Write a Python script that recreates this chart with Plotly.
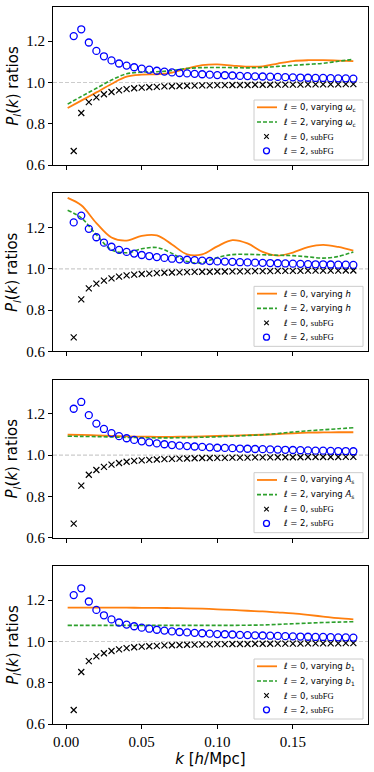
import plotly.graph_objects as go

# k grid of the subFG points and of the model curves
k_sub = [0.005, 0.010, 0.015, 0.020, 0.025, 0.030, 0.035, 0.040, 0.045, 0.050,
         0.055, 0.060, 0.065, 0.070, 0.075, 0.080, 0.085, 0.090, 0.095, 0.100,
         0.105, 0.110, 0.115, 0.120, 0.125, 0.130, 0.135, 0.140, 0.145, 0.150,
         0.155, 0.160, 0.165, 0.170, 0.175, 0.180, 0.185, 0.190]
k_line = [0.001, 0.01, 0.02, 0.03, 0.04, 0.05, 0.06, 0.07, 0.08, 0.09, 0.10,
          0.11, 0.12, 0.13, 0.14, 0.15, 0.16, 0.17, 0.18, 0.19]

# subFG ratios (same in every panel)
sub_l0 = [0.668, 0.852, 0.905, 0.928, 0.943, 0.954, 0.962, 0.968, 0.972, 0.975,
          0.977, 0.979, 0.981, 0.982, 0.983, 0.984, 0.985, 0.986, 0.986, 0.987,
          0.987, 0.988, 0.988, 0.988, 0.989, 0.989, 0.989, 0.990, 0.990, 0.990,
          0.990, 0.991, 0.991, 0.991, 0.991, 0.991, 0.992, 0.992]
sub_l2 = [1.225, 1.258, 1.194, 1.153, 1.127, 1.107, 1.092, 1.082, 1.074, 1.067,
          1.062, 1.057, 1.053, 1.049, 1.046, 1.044, 1.042, 1.040, 1.038, 1.036,
          1.035, 1.034, 1.032, 1.031, 1.030, 1.029, 1.028, 1.027, 1.026, 1.025,
          1.024, 1.023, 1.022, 1.022, 1.021, 1.020, 1.020, 1.019]

# varying omega_c
omc_l0 = [0.876, 0.912, 0.952, 0.993, 1.028, 1.038, 1.040, 1.048, 1.068, 1.084,
          1.088, 1.082, 1.077, 1.078, 1.092, 1.104, 1.108, 1.108, 1.106, 1.104]
omc_l2 = [0.895, 0.932, 0.972, 1.012, 1.042, 1.050, 1.052, 1.058, 1.068, 1.072,
          1.073, 1.072, 1.071, 1.073, 1.078, 1.083, 1.088, 1.093, 1.103, 1.112]
# varying h
h_l0 = [1.344, 1.308, 1.222, 1.152, 1.137, 1.160, 1.162, 1.118, 1.070, 1.070,
        1.109, 1.139, 1.123, 1.082, 1.064, 1.079, 1.105, 1.116, 1.106, 1.088]
h_l2 = [1.284, 1.247, 1.165, 1.092, 1.078, 1.097, 1.103, 1.075, 1.035, 1.030,
        1.055, 1.069, 1.070, 1.068, 1.066, 1.064, 1.058, 1.052, 1.060, 1.082]
# varying A_s
as_l0 = [1.099, 1.098, 1.096, 1.093, 1.091, 1.090, 1.089, 1.089, 1.090, 1.091,
         1.093, 1.095, 1.097, 1.099, 1.102, 1.106, 1.109, 1.110, 1.111, 1.111]
as_l2 = [1.092, 1.091, 1.090, 1.088, 1.086, 1.085, 1.084, 1.084, 1.085, 1.087,
         1.089, 1.092, 1.095, 1.099, 1.105, 1.112, 1.118, 1.123, 1.128, 1.133]
# varying b_1
b1_l0 = [1.164, 1.164, 1.164, 1.164, 1.164, 1.163, 1.163, 1.162, 1.161, 1.159,
         1.156, 1.153, 1.149, 1.146, 1.141, 1.136, 1.129, 1.121, 1.113, 1.107]
b1_l2 = [1.078, 1.078, 1.078, 1.078, 1.078, 1.078, 1.078, 1.078, 1.078, 1.078,
         1.078, 1.078, 1.079, 1.080, 1.083, 1.086, 1.089, 1.092, 1.094, 1.096]

param_labels = ["<i>ω</i><sub>c</sub>", "<i>h</i>", "<i>A</i><sub>s</sub>",
                "<i>b</i><sub>1</sub>"]
panels = [(omc_l0, omc_l2), (h_l0, h_l2), (as_l0, as_l2), (b1_l0, b1_l2)]

ORANGE = "#ff7f0e"
GREEN = "#2ca02c"
SERIF = "Liberation Serif, Times New Roman, Times, serif"
SANS = "DejaVu Sans"

W, H = 374, 772
m_l, m_r, m_t, m_b = 53, 6, 7, 48
pw = W - m_l - m_r
ph_total = H - m_t - m_b
panel_h = 158 / ph_total
gap = (1 - 4 * panel_h) / 3

fig = go.Figure()
shapes = []
annotations = []


def add_legend(xa, ya, label):
    # hand-drawn matplotlib style legend box (pixel offsets inside a panel)
    ph = panel_h * ph_total
    xd = xa + " domain"
    yd = ya + " domain"
    fx = lambda px: px / pw
    fy = lambda py: 1 - py / ph
    shapes.append(dict(type="rect", xref=xd, yref=yd, x0=fx(201), x1=fx(310),
                       y0=fy(153), y1=fy(93), fillcolor="rgba(255,255,255,0.8)",
                       line=dict(color="#cccccc", width=1), layer="above"))
    rows = [100.3, 115.0, 129.5, 143.8]
    texts = ["<i>ℓ</i> = 0, varying " + label,
             "<i>ℓ</i> = 2, varying " + label,
             "<i>ℓ</i> = 0, <span style='font-family:Liberation Serif'>subFG</span>",
             "<i>ℓ</i> = 2, <span style='font-family:Liberation Serif'>subFG</span>"]
    shapes.append(dict(type="line", xref=xd, yref=yd, x0=fx(204), x1=fx(224),
                       y0=fy(rows[0]), y1=fy(rows[0]),
                       line=dict(color=ORANGE, width=1.8)))
    shapes.append(dict(type="line", xref=xd, yref=yd, x0=fx(204), x1=fx(224),
                       y0=fy(rows[1]), y1=fy(rows[1]),
                       line=dict(color=GREEN, width=1.6, dash="4px,2px")))
    cx = 213.5
    for sx in (-1, 1):
        shapes.append(dict(type="line", xref=xd, yref=yd,
                           x0=fx(cx - 2.3), x1=fx(cx + 2.3),
                           y0=fy(rows[2] - 2.3 * sx), y1=fy(rows[2] + 2.3 * sx),
                           line=dict(color="black", width=1.1)))
    shapes.append(dict(type="circle", xref=xd, yref=yd,
                       x0=fx(cx - 3), x1=fx(cx + 3),
                       y0=fy(rows[3] + 3), y1=fy(rows[3] - 3),
                       line=dict(color="blue", width=1.3)))
    for r, t in zip(rows, texts):
        annotations.append(dict(xref=xd, yref=yd, x=fx(228), y=fy(r), text=t,
                                showarrow=False, xanchor="left", yanchor="middle",
                                font=dict(family=SANS, size=8.5, color="black")))


for i, (l0, l2) in enumerate(panels):
    n = "" if i == 0 else str(i + 1)
    xa, ya = "x" + n, "y" + n
    fig.add_trace(go.Scatter(x=k_line, y=l0, mode="lines", line_shape="spline",
                             line=dict(color=ORANGE, width=1.8),
                             xaxis=xa, yaxis=ya, showlegend=False))
    fig.add_trace(go.Scatter(x=k_line, y=l2, mode="lines", line_shape="spline",
                             line=dict(color=GREEN, width=1.6, dash="4px,2px"),
                             xaxis=xa, yaxis=ya, showlegend=False))
    fig.add_trace(go.Scatter(x=k_sub, y=sub_l0, mode="markers",
                             marker=dict(symbol="x-thin-open", size=6, color="black",
                                         line=dict(color="black", width=1.2)),
                             xaxis=xa, yaxis=ya, showlegend=False))
    fig.add_trace(go.Scatter(x=k_sub, y=sub_l2, mode="markers",
                             marker=dict(symbol="circle-open", size=7, color="blue",
                                         line=dict(color="blue", width=1.3)),
                             xaxis=xa, yaxis=ya, showlegend=False))

    top = min(1.0, 1 - i * (panel_h + gap))
    bot = max(0.0, top - panel_h)
    bottom = i == 3
    fig.layout["xaxis" + n] = dict(
        anchor=ya, domain=[0, 1], range=[-0.0087, 0.1997],
        tickvals=[0, 0.05, 0.1, 0.15], tickformat=".2f", showticklabels=bottom,
        title=dict(text="<i>k</i> [<i>h</i>/Mpc]" if bottom else "",
                   font=dict(family=SANS, size=15, color="black"), standoff=2))
    fig.layout["yaxis" + n] = dict(
        anchor=xa, domain=[bot, top], range=[0.6, 1.366],
        tickvals=[0.6, 0.8, 1.0, 1.2], tickformat=".1f",
        title=dict(text="<i>P<sub>l</sub></i>(<i>k</i>) ratios",
                   font=dict(family=SANS, size=15, color="black"), standoff=4))

    shapes.append(dict(type="line", xref=xa + " domain", yref=ya, x0=0, x1=1,
                       y0=1.0, y1=1.0, layer="below",
                       line=dict(color="#cccccc", width=1.2, dash="4px,2px")))
    add_legend(xa, ya, param_labels[i])

axis_style = dict(showline=True, mirror=True, linecolor="black", linewidth=1,
                  ticks="outside", ticklen=4, tickwidth=1, tickcolor="black",
                  showgrid=False, zeroline=False, automargin=False,
                  tickfont=dict(family=SERIF, size=15, color="black"))
fig.update_xaxes(**axis_style)
fig.update_yaxes(**axis_style)

fig.update_layout(width=W, height=H, margin=dict(l=m_l, r=m_r, t=m_t, b=m_b),
                  plot_bgcolor="white", paper_bgcolor="white",
                  shapes=shapes, annotations=annotations, showlegend=False)

# page body has a default 8px margin; drop it so the figure sits at the origin
fig.write_html("out.html", config={"displayModeBar": False},
               post_script="document.body.style.margin='0';")
